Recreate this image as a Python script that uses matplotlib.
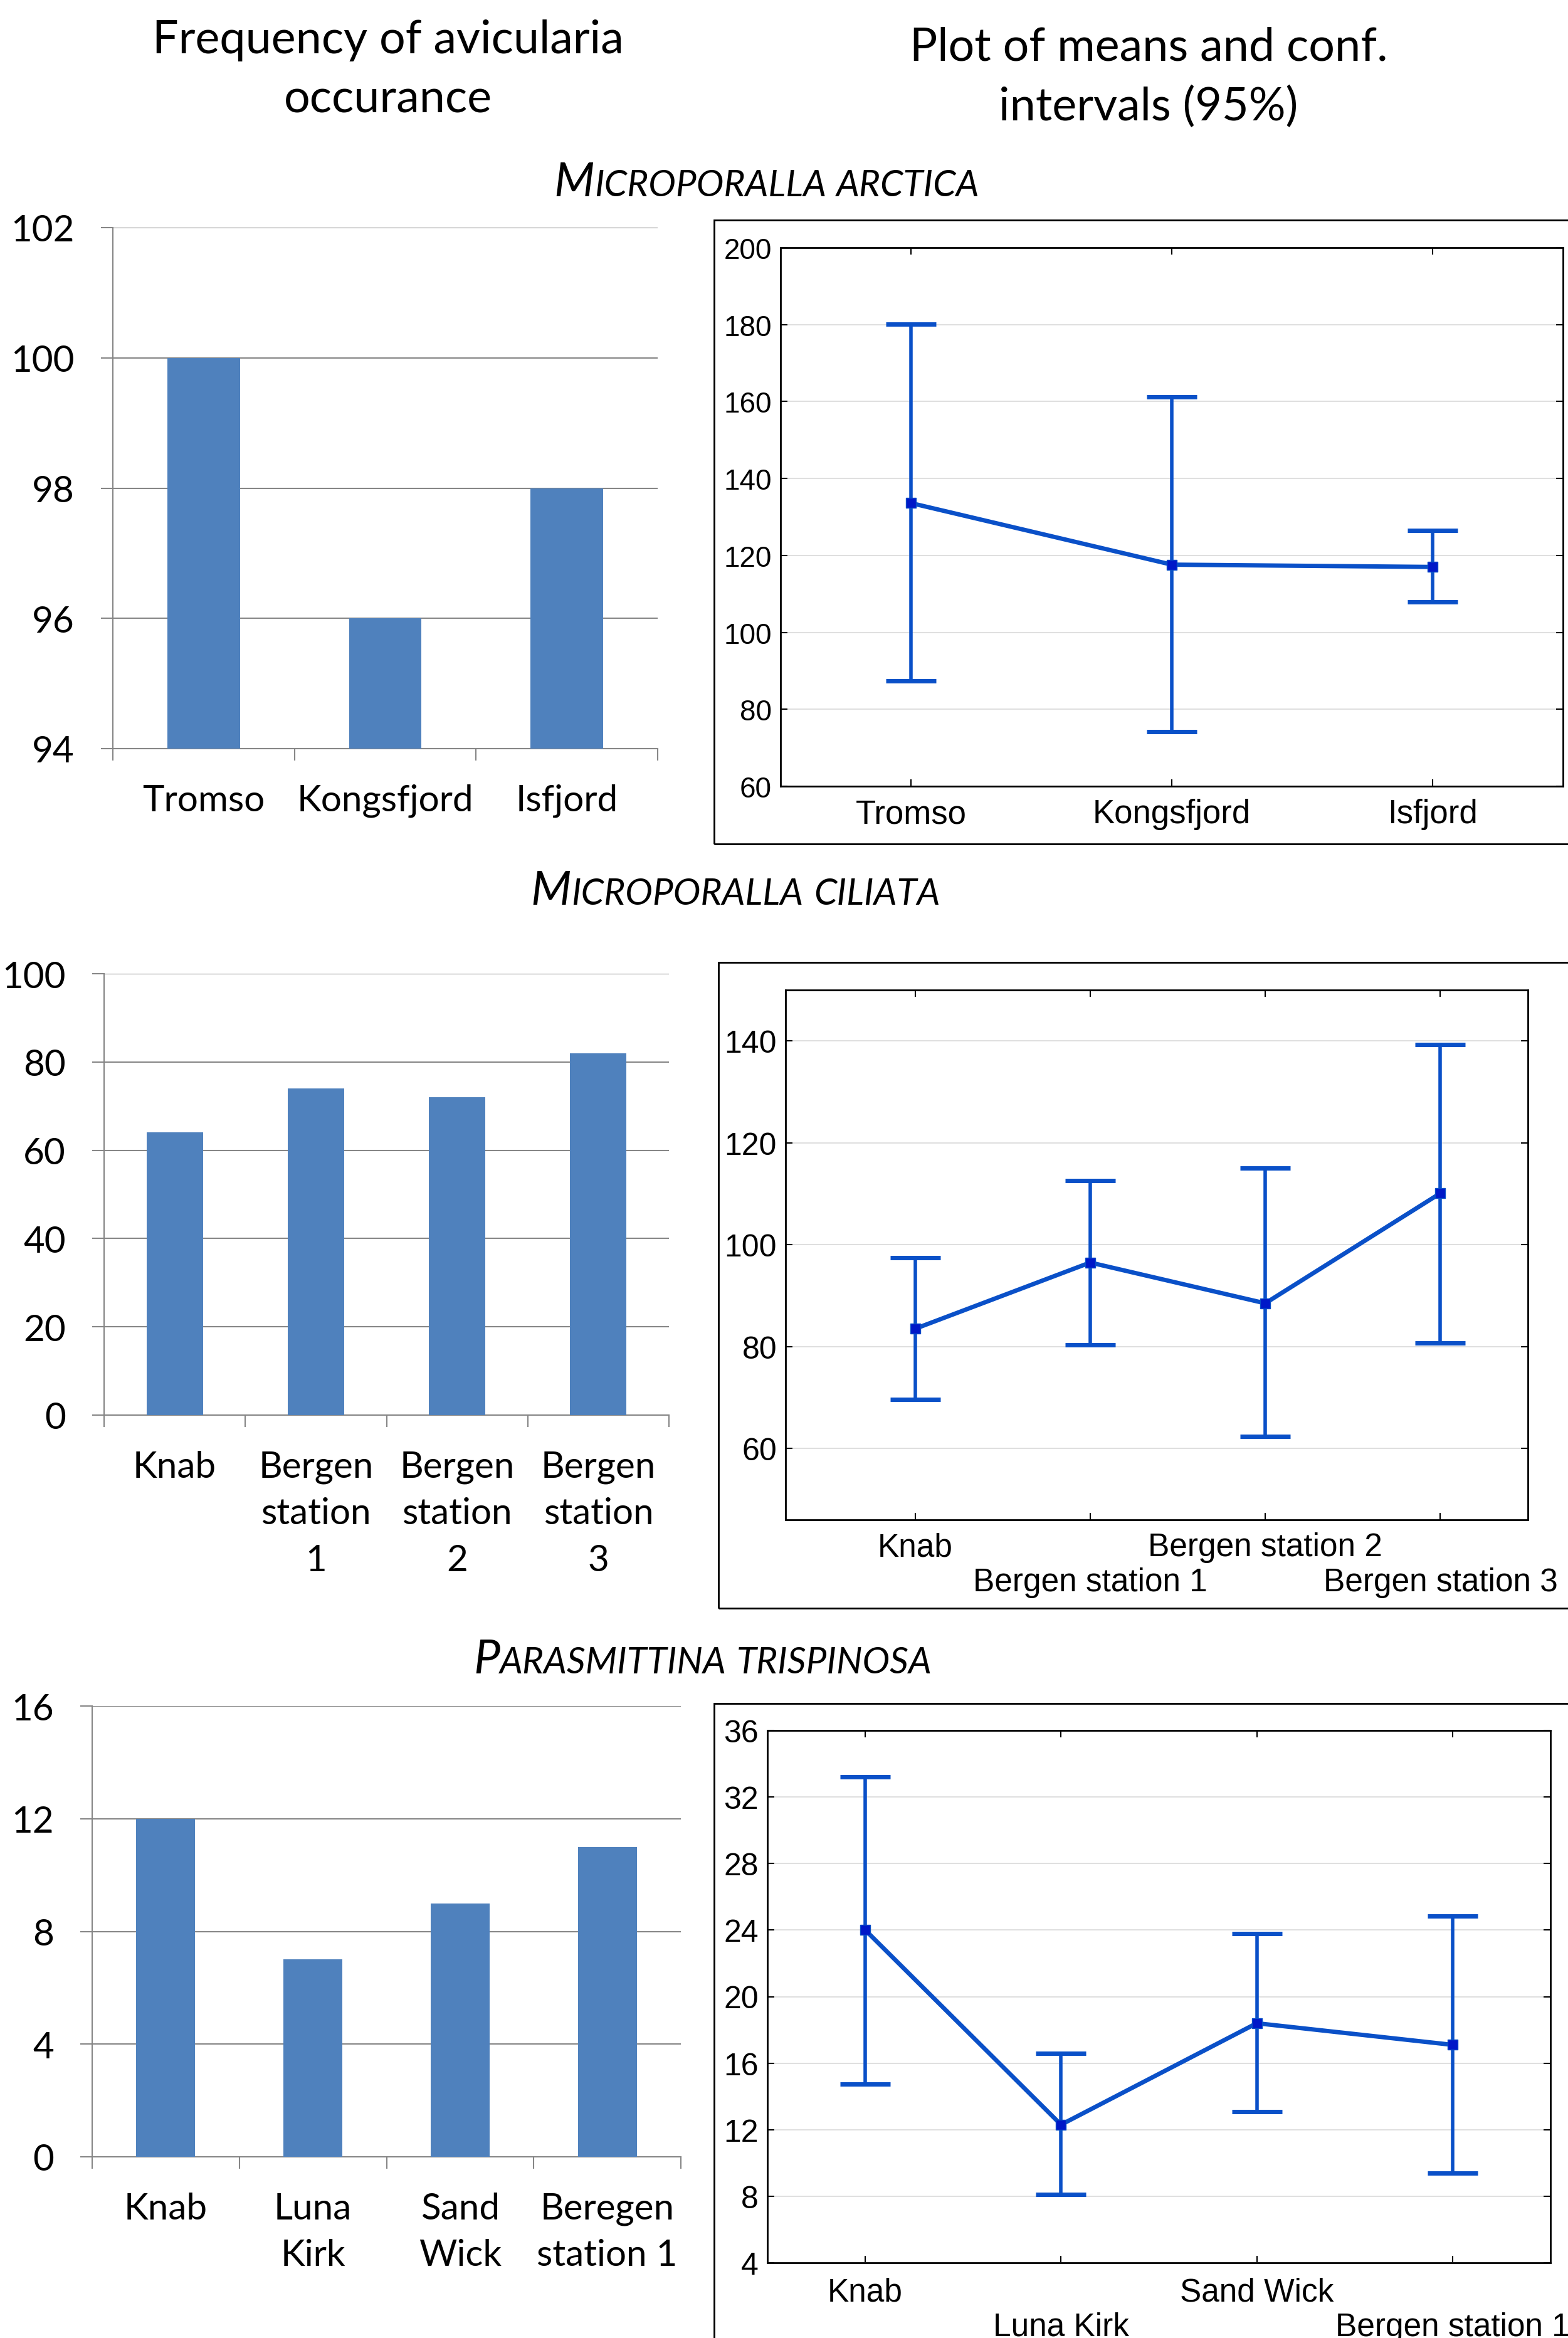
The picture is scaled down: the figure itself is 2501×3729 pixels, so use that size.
import numpy as np
import matplotlib.pyplot as plt
from matplotlib.patches import Rectangle

# figure size in pixels (saved at 100 dpi)
W, H = 2501, 3730

EXCEL_FONT = 'Lato'
STAT_FONT = 'Liberation Sans'
BAR_COLOR = '#4F81BD'
GRID_GREY = '#868686'
STAT_BLUE = '#0A50C8'

# Microporalla arctica
arctica_sites = ['Tromso', 'Kongsfjord', 'Isfjord']
arctica_freq = [100, 96, 98]
arctica_mean = [133.6, 117.6, 117.0]
arctica_lo = [87.4, 74.2, 107.9]
arctica_hi = [180.1, 161.2, 126.5]

# Microporalla ciliata
ciliata_bar_labels = ['Knab', 'Bergen\nstation\n1', 'Bergen\nstation\n2', 'Bergen\nstation\n3']
ciliata_freq = [64, 74, 72, 82]
ciliata_sites = ['Knab', 'Bergen station 1', 'Bergen station 2', 'Bergen station 3']
ciliata_mean = [83.5, 96.5, 88.5, 110.1]
ciliata_lo = [69.6, 80.3, 62.4, 80.7]
ciliata_hi = [97.4, 112.6, 115.1, 139.3]

# Parasmittina trispinosa
trisp_bar_labels = ['Knab', 'Luna\nKirk', 'Sand\nWick', 'Beregen\nstation 1']
trisp_freq = [12, 7, 9, 11]
trisp_sites = ['Knab', 'Luna Kirk', 'Sand Wick', 'Bergen station 1']
trisp_mean = [24.0, 12.3, 18.4, 17.1]
trisp_lo = [14.75, 8.1, 13.1, 9.4]
trisp_hi = [33.2, 16.6, 23.8, 24.85]

fig = plt.figure(figsize=(W / 100, H / 100), dpi=100)


def px_axes(left, top, right, bottom):
    """Add axes using pixel coordinates measured from the top-left corner"""
    return fig.add_axes([left / W, 1 - bottom / H, (right - left) / W, (bottom - top) / H])


def bar_panel(box, labels, values, ylim, yticks, fontsize=42):
    ax = px_axes(*box)
    x = np.arange(len(values))
    ax.bar(x, values, width=0.4, color=BAR_COLOR, zorder=3)
    ax.set_xlim(-0.5, len(values) - 0.5)
    ax.set_ylim(*ylim)
    ax.set_yticks(yticks)
    ax.set_yticklabels([str(t) for t in yticks], fontsize=fontsize, family=EXCEL_FONT)
    ax.set_xticks(x)
    ax.set_xticklabels(labels, fontsize=fontsize, family=EXCEL_FONT, linespacing=1.5)
    ax.set_xticks(np.arange(len(values) + 1) - 0.5, minor=True)
    ax.tick_params(axis='x', which='major', length=0, pad=40)
    ax.tick_params(axis='x', which='minor', length=14, width=1.5, color=GRID_GREY)
    ax.tick_params(axis='y', length=14, width=1.5, color=GRID_GREY, pad=30)
    ax.grid(axis='y', color=GRID_GREY, linewidth=1.5, zorder=0)
    for side in ['top', 'right']:
        ax.spines[side].set_visible(False)
    for side in ['left', 'bottom']:
        ax.spines[side].set_color(GRID_GREY)
        ax.spines[side].set_linewidth(1.5)
    return ax


def means_panel(box, frame, labels, mean, lo, hi, xlim, ylim, yticks,
                ysize=34, xsize=37, pad=12, stagger=False):
    x0, y0, y1 = frame
    fig.add_artist(Rectangle((x0 / W, 1 - y1 / H), 2, (y1 - y0) / H,
                             transform=fig.transFigure, fill=False, lw=2, ec='black'))
    ax = px_axes(*box)
    x = np.arange(len(mean))
    mean = np.array(mean)
    yerr = [mean - np.array(lo), np.array(hi) - mean]
    ax.errorbar(x, mean, yerr=yerr, fmt='s-', color=STAT_BLUE, lw=5,
                ecolor=STAT_BLUE, elinewidth=4, capsize=29, capthick=5,
                markersize=12, mfc='#0018C8', mec=STAT_BLUE, zorder=3)
    ax.set_xlim(*xlim)
    ax.set_ylim(*ylim)
    ax.set_yticks(yticks)
    ax.set_yticklabels([str(t) for t in yticks], fontsize=ysize, family=STAT_FONT)
    if stagger:
        # alternate category labels on two rows
        ax.set_xticks(x[::2])
        ax.set_xticklabels(labels[::2], fontsize=xsize, family=STAT_FONT)
        ax.set_xticks(x[1::2], minor=True)
        ax.set_xticklabels(labels[1::2], minor=True, fontsize=xsize, family=STAT_FONT)
    else:
        ax.set_xticks(x)
        ax.set_xticklabels(labels, fontsize=xsize, family=STAT_FONT)
    ax.tick_params(which='both', direction='in', length=8, width=1.5, top=True, right=True)
    ax.tick_params(axis='x', which='major', pad=pad)
    ax.tick_params(axis='x', which='minor', pad=pad + 40)
    ax.tick_params(axis='y', pad=10)
    ax.grid(axis='y', color='#D9D9D9', linewidth=1.2, zorder=0)
    for s in ax.spines.values():
        s.set_linewidth(2)
    return ax


def small_caps(text, xc, y_base, size):
    """Draw italic small-caps text centred at xc (pixels), baseline at y_base"""
    renderer = fig.canvas.get_renderer()
    small = size * 0.78
    pieces = [(text[0].upper(), size)]
    words = text[1:].split()
    for i, word in enumerate(words):
        if i:
            pieces.append((None, small))
        pieces.append((word.upper(), small))
    objs, widths = [], []
    for s, sz in pieces:
        if s is None:
            objs.append(None)
            widths.append(sz * 0.28 * 100 / 72)
            continue
        t = fig.text(0, 0, s, fontsize=sz, style='italic', family=EXCEL_FONT,
                     ha='left', va='baseline')
        objs.append(t)
        widths.append(t.get_window_extent(renderer).width)
    x = xc - sum(widths) / 2
    for t, w in zip(objs, widths):
        if t is not None:
            t.set_position((x / W, 1 - y_base / H))
        x += w


# column headings
fig.text(619 / W, 1 - 112 / H, 'Frequency of avicularia\noccurance', ha='center', va='center',
         fontsize=53, family=EXCEL_FONT, linespacing=1.5)
fig.text(1832 / W, 1 - 124 / H, 'Plot of means and conf.\nintervals (95%)', ha='center', va='center',
         fontsize=53, family=EXCEL_FONT, linespacing=1.5)

# species headings
small_caps('Microporalla arctica', 1223, 313, 54)
small_caps('Microporalla ciliata', 1173, 1443, 54)
small_caps('Parasmittina trispinosa', 1121, 2669, 54)

# row 1
bar_panel((180, 364, 1049, 1195), arctica_sites, arctica_freq, (94, 102), [94, 96, 98, 100, 102])
means_panel((1245, 396, 2493, 1255), (1139, 352, 1347), arctica_sites,
            arctica_mean, arctica_lo, arctica_hi, (-0.5, 2.5), (60, 200),
            list(range(60, 201, 20)), ysize=33, xsize=38, pad=14)

# row 2
bar_panel((166, 1554, 1067, 2258), ciliata_bar_labels, ciliata_freq, (0, 100), [0, 20, 40, 60, 80, 100])
means_panel((1253, 1580, 2437, 2425), (1146, 1536, 2566), ciliata_sites,
            ciliata_mean, ciliata_lo, ciliata_hi, (-0.74, 3.5), (46, 150),
            [60, 80, 100, 120, 140], ysize=36, xsize=37, pad=14, stagger=True)

# row 3
bar_panel((147, 2722, 1086, 3441), trisp_bar_labels, trisp_freq, (0, 16), [0, 4, 8, 12, 16])
means_panel((1224, 2761, 2473, 3610), (1139, 2718, 3800), trisp_sites,
            trisp_mean, trisp_lo, trisp_hi, (-0.5, 3.5), (4, 36),
            list(range(4, 37, 4)), ysize=36, xsize=37, pad=16, stagger=True)

fig.savefig('out.png', dpi=100)
